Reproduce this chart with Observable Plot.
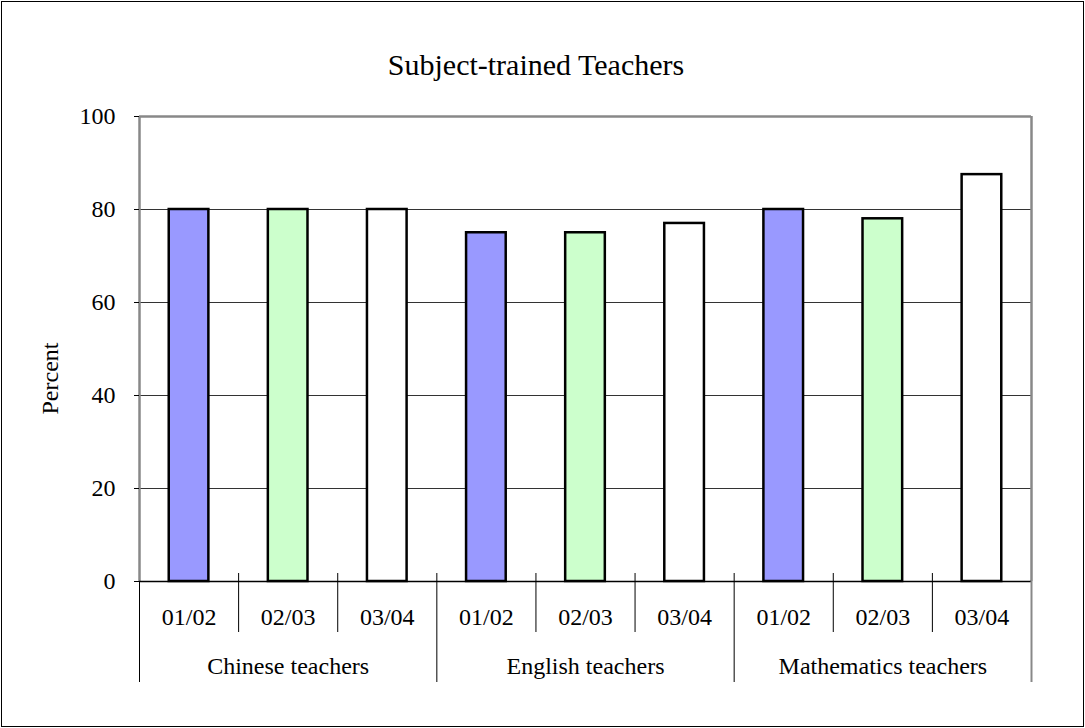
<!DOCTYPE html>
<html>
<head>
<meta charset="utf-8">
<script src="https://cdn.jsdelivr.net/npm/d3@7"></script>
<script src="https://cdn.jsdelivr.net/npm/@observablehq/plot@0.6"></script>
<style>
  html, body { margin: 0; padding: 0; background: #fff; }
  #chart svg { display: block; outline: 1.5px solid #000; outline-offset: -2px; }
</style>
</head>
<body>
<div id="chart"></div>
<script>
const title = "Subject-trained Teachers";
const yLabel = "Percent";
const subjects = ["Chinese teachers", "English teachers", "Mathematics teachers"];
const years = ["01/02", "02/03", "03/04"];
const chineseValues = [80, 80, 80];
const englishValues = [75, 75, 77];
const mathValues = [80, 78, 87.5];
const yearColors = ["#9999ff", "#ccffcc", "#ffffff"];
const yTicks = [0, 20, 40, 60, 80, 100];

const seriesBySubject = [chineseValues, englishValues, mathValues];
const rows = [];
subjects.forEach((s, si) => {
  years.forEach((y, yi) => {
    rows.push({subject: s, year: y, value: seriesBySubject[si][yi], i: si * years.length + yi});
  });
});
const n = rows.length;
const groupCenters = subjects.map((s, si) => ({subject: s, c: si * years.length + years.length / 2}));
const yearSeps = rows.map(d => d.i).filter(i => i % years.length !== 0);
const groupSepsInner = subjects.map((s, si) => si * years.length).filter(i => i > 0);
const groupSepsEnds = [0, n];

const W = 1085, H = 728;
const mL = 139, mR = 54, mT = 116, mB = 147;
const step = (W - mL - mR) / n;
const barInset = step * 0.3;
const frameH = H - mT - mB;

const chart = Plot.plot({
  width: W,
  height: H,
  marginLeft: mL,
  marginRight: mR,
  marginTop: mT,
  marginBottom: mB,
  style: {fontFamily: "'Liberation Serif', 'Times New Roman', serif", fontSize: "24px", color: "#000", background: "#fff", overflow: "visible"},
  x: {type: "linear", domain: [0, n], axis: null},
  y: {domain: [0, 100], axis: null},
  color: {domain: years, range: yearColors},
  marks: [
    Plot.gridY(yTicks.filter(t => t > 0 && t < 100), {stroke: "#333", strokeOpacity: 1, strokeWidth: 1}),
    Plot.ruleY([100], {stroke: "#888", strokeWidth: 2.5}),
    Plot.ruleX(groupSepsEnds, {x: d => d, stroke: "#888", strokeWidth: 2.5}),
    Plot.axisY({ticks: yTicks, tickSize: 5, tickPadding: 19, fontSize: 24, label: null, stroke: "#000"}),
    Plot.rect(rows, {
      x1: "i", x2: d => d.i + 1, y1: 0, y2: "value",
      fill: "year", stroke: "#000", strokeWidth: 2.5,
      insetLeft: barInset, insetRight: barInset
    }),
    Plot.ruleY([0], {stroke: "#000", strokeWidth: 1.5}),
    // category separators below the axis
    Plot.ruleX(yearSeps, {x: d => d, stroke: "#000", strokeWidth: 1, insetTop: frameH - 8, insetBottom: -51}),
    Plot.ruleX(groupSepsInner, {x: d => d, stroke: "#000", strokeWidth: 1, insetTop: frameH - 8, insetBottom: -101}),
    Plot.ruleX([0], {x: d => d, stroke: "#000", strokeWidth: 1, insetTop: frameH, insetBottom: -101}),
    Plot.ruleX([n], {x: d => d, stroke: "#888", strokeWidth: 2, insetTop: frameH, insetBottom: -101}),
    Plot.text(rows, {x: d => d.i + 0.5, text: "year", frameAnchor: "bottom", lineAnchor: "middle", dy: 36, fontSize: 24, fill: "#000"}),
    Plot.text(groupCenters, {x: "c", text: "subject", frameAnchor: "bottom", lineAnchor: "middle", dy: 85, fontSize: 24, fill: "#000"}),
    Plot.text([title], {text: d => d, frameAnchor: "top", lineAnchor: "middle", dx: -49.5, dy: -51, fontSize: 30, fill: "#000"}),
    Plot.text([yLabel], {text: d => d, frameAnchor: "left", textAnchor: "middle", lineAnchor: "middle", rotate: -90, dx: -89, dy: 29.5, fontSize: 24, fill: "#000"})
  ]
});
document.getElementById("chart").appendChild(chart);
</script>
</body>
</html>
